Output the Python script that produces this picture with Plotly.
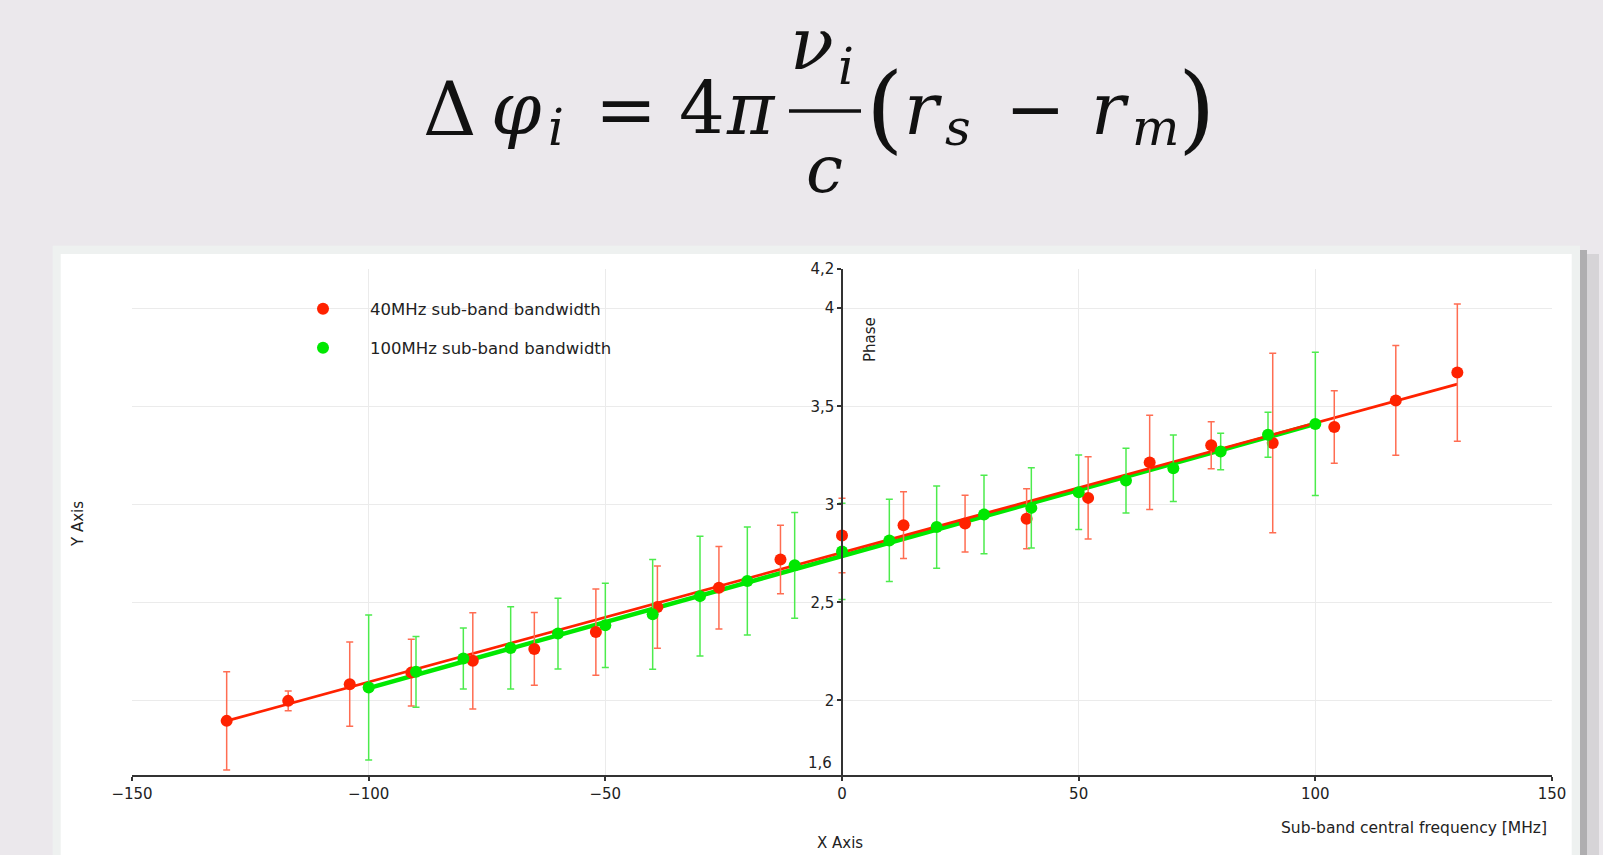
import plotly.graph_objects as go

# ---------------- data ----------------
red_x = [-130, -117, -104, -91, -78, -65, -52, -39, -26, -13, 0, 13, 26, 39, 52, 65, 78, 91, 104, 117, 130]
red_y = [1.896, 1.998, 2.083, 2.142, 2.202, 2.263, 2.349, 2.476, 2.575, 2.719, 2.841, 2.894, 2.902, 2.926,
         3.033, 3.214, 3.301, 3.313, 3.394, 3.530, 3.672]
red_err = [0.25, 0.05, 0.215, 0.17, 0.245, 0.185, 0.22, 0.21, 0.21, 0.175, 0.19, 0.17, 0.145, 0.153,
           0.21, 0.24, 0.12, 0.458, 0.185, 0.28, 0.35]

green_x = [-100, -90, -80, -70, -60, -50, -40, -30, -20, -10, 0, 10, 20, 30, 40, 50, 60, 70, 80, 90, 100]
green_y = [2.066, 2.146, 2.214, 2.268, 2.341, 2.383, 2.439, 2.532, 2.609, 2.689, 2.760, 2.816, 2.884, 2.948,
           2.982, 3.062, 3.121, 3.184, 3.269, 3.355, 3.410]
green_err = [0.37, 0.18, 0.156, 0.21, 0.18, 0.215, 0.28, 0.305, 0.275, 0.27, 0.245, 0.21, 0.21, 0.2,
             0.205, 0.19, 0.165, 0.17, 0.093, 0.115, 0.365]

red_fit_x = [-130, 130]
red_fit_y = [1.896, 3.613]
green_fit_x = [-100, 100]
green_fit_y = [2.063, 3.410]

x_ticks = [-150, -100, -50, 0, 50, 100, 150]
y_ticks = [2, 2.5, 3, 3.5, 4, 4.2]
y_tick_text = ["2", "2,5", "3", "3,5", "4", "4,2"]
y_bottom_label = "1,6"

series_names = ["40MHz sub-band bandwidth", "100MHz sub-band bandwidth"]

# ---------------- geometry helpers (pixels -> paper) ----------------
W, H = 1603, 855
L, R, T, B = 132, 1552, 269, 775


def px(x):
    return (x - L) / (R - L)


def py(y):
    return (B - y) / (B - T)


RED = "#ff2200"
RED_ERR = "#ff6d52"
GREEN = "#00e800"
GREEN_ERR = "#4deb4d"
SANS = "DejaVu Sans"
SERIF = "DejaVu Serif"
TXT = "#222222"

fig = go.Figure()

fig.add_trace(go.Scatter(x=green_fit_x, y=green_fit_y, mode="lines",
                         line=dict(color=GREEN, width=4.5), showlegend=False, hoverinfo="skip"))
fig.add_trace(go.Scatter(x=red_fit_x, y=red_fit_y, mode="lines",
                         line=dict(color=RED, width=2.8), showlegend=False, hoverinfo="skip"))
fig.add_trace(go.Scatter(x=red_x, y=red_y, mode="markers", name=series_names[0],
                         marker=dict(color=RED, size=12),
                         error_y=dict(type="data", array=red_err, color=RED_ERR, thickness=1.5, width=3.5),
                         legend="legend"))
fig.add_trace(go.Scatter(x=green_x, y=green_y, mode="markers", name=series_names[1],
                         marker=dict(color=GREEN, size=12),
                         error_y=dict(type="data", array=green_err, color=GREEN_ERR, thickness=1.5, width=3.5),
                         legend="legend2"))

# ---------------- background panel ----------------
shapes = [
    dict(type="rect", xref="paper", yref="paper", x0=px(1580), x1=px(1587), y0=py(250), y1=py(860),
         fillcolor="rgba(80,80,80,0.38)", line=dict(width=0), layer="below"),
    dict(type="rect", xref="paper", yref="paper", x0=px(1587), x1=px(1599), y0=py(254), y1=py(860),
         fillcolor="rgba(90,90,90,0.14)", line=dict(width=0), layer="below"),
    dict(type="rect", xref="paper", yref="paper", x0=px(52.7), x1=px(1580), y0=py(245.7), y1=py(860),
         fillcolor="#eef1f0", line=dict(width=0), layer="below"),
    dict(type="rect", xref="paper", yref="paper", x0=px(60.7), x1=px(1571.7), y0=py(254), y1=py(860),
         fillcolor="#ffffff", line=dict(width=0), layer="below"),
    # fraction bar of the formula
    dict(type="line", xref="paper", yref="paper", x0=px(789), x1=px(861), y0=py(111), y1=py(111),
         line=dict(color="#111111", width=3.5)),
]

annotations = []


def ann(text, x, y, size, font=SANS, color=TXT, xanchor="center", angle=0):
    annotations.append(dict(text=text, x=px(x), y=py(y), xref="paper", yref="paper",
                            xanchor=xanchor, yanchor="middle", showarrow=False, textangle=angle,
                            font=dict(family=font, size=size, color=color)))


# axis texts
ann("Y Axis", 78, 524, 15, angle=-90)
ann("X Axis", 840, 843, 15)
ann("Phase", 870, 340, 15, angle=-90)
ann("Sub-band central frequency [MHz]", 1549, 828, 15.5, xanchor="right")
ann(y_bottom_label, 834, 763, 15, xanchor="right")

# formula
FK = "#111111"
main_y = 109
ann("Δ", 449, main_y, 74, SERIF, FK)
ann("<i>φ</i>", 516, main_y, 72, SERIF, FK)
ann("<i>i</i>", 556, 128, 50, SERIF, FK)
ann("=", 626, main_y, 74, SERIF, FK)
ann("4", 702, main_y, 72, SERIF, FK)
ann("<i>π</i>", 751, main_y, 72, SERIF, FK)
ann("<i>ν</i>", 812, 44, 72, SERIF, FK)
ann("<i>i</i>", 846, 67, 50, SERIF, FK)
ann("<i>c</i>", 824, 169, 66, SERIF, FK)
ann("(", 884, 108, 96, SERIF, FK)
ann("<i>r</i>", 923, main_y, 72, SERIF, FK)
ann("<i>s</i>", 958, 128, 50, SERIF, FK)
ann("−", 1035, main_y, 72, SERIF, FK)
ann("<i>r</i>", 1110, main_y, 72, SERIF, FK)
ann("<i>m</i>", 1155, 128, 50, SERIF, FK)
ann(")", 1196, 108, 96, SERIF, FK)

fig.update_layout(
    width=W, height=H, autosize=False,
    margin=dict(l=L, r=W - R, t=T, b=H - B, pad=0),
    paper_bgcolor="#ebe8ec",
    plot_bgcolor="rgba(0,0,0,0)",
    font=dict(family=SANS, size=15, color=TXT),
    shapes=shapes,
    annotations=annotations,
    hovermode=False,
    xaxis=dict(range=[-150, 150], tickvals=x_ticks, showgrid=True, gridcolor="#ebebeb", gridwidth=1,
               zeroline=False, showline=True, linecolor="#333333", linewidth=1.5,
               ticks="outside", ticklen=4, tickcolor="#333333", tickwidth=1.5,
               tickfont=dict(size=15, color=TXT), fixedrange=True),
    yaxis=dict(range=[1.62, 4.2], tickvals=y_ticks, ticktext=y_tick_text, showgrid=True,
               gridcolor="#ebebeb", gridwidth=1, zeroline=False, showline=True,
               linecolor="#333333", linewidth=1.5, anchor="free", position=0.5,
               ticks="outside", ticklen=4, tickcolor="#333333", tickwidth=1.5,
               tickfont=dict(size=15, color=TXT), fixedrange=True),
    legend=dict(x=px(276), y=py(309), xanchor="left", yanchor="middle", itemwidth=84,
                bgcolor="rgba(0,0,0,0)", font=dict(family=SANS, size=16.5, color=TXT)),
    legend2=dict(x=px(276), y=py(348), xanchor="left", yanchor="middle", itemwidth=84,
                 bgcolor="rgba(0,0,0,0)", font=dict(family=SANS, size=16.5, color=TXT)),
)

fig.write_html("out.html", config={"displayModeBar": False},
               post_script="document.body.style.margin='0';document.body.style.overflow='hidden';")
